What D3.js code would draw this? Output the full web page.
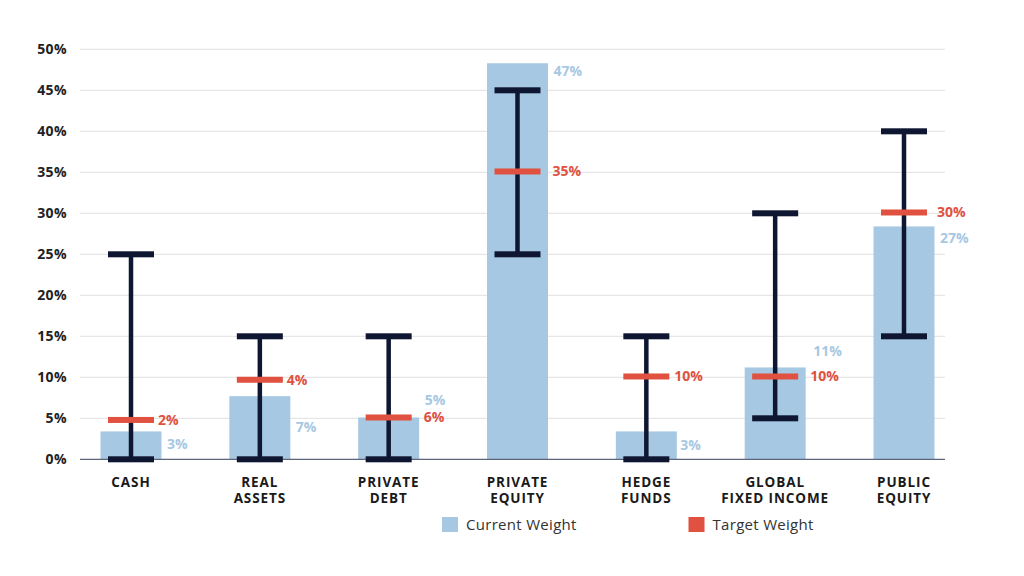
<!DOCTYPE html>
<html><head><meta charset="utf-8">
<script src="https://cdn.jsdelivr.net/npm/d3@7"></script>
<style>
html,body{margin:0;padding:0;background:#fff;}
svg{display:block;font-family:"Open Sans",sans-serif;}
</style></head>
<body>
<svg id="chart" width="1024" height="576"></svg>
<script>
// ---- data ----
const categories = [["CASH"],["REAL","ASSETS"],["PRIVATE","DEBT"],["PRIVATE","EQUITY"],["HEDGE","FUNDS"],["GLOBAL","FIXED INCOME"],["PUBLIC","EQUITY"]];
const currentWeight = [3.4, 7.7, 5.1, 48.3, 3.4, 11.2, 28.4];
const targetWeight  = [4.8, 9.7, 5.1, 35.1, 10.1, 10.1, 30.1];
const rangeMin      = [0, 0, 0, 25, 0, 5, 15];
const rangeMax      = [25, 15, 15, 45, 15, 30, 40];
const currentLabels = ["3%","7%","5%","47%","3%","11%","27%"];
const targetLabels  = ["2%","4%","6%","35%","10%","10%","30%"];
const yTicks = [0,5,10,15,20,25,30,35,40,45,50];

// ---- label layout offsets (px) ----
const curLabelDy = [13, 31, -17, 8, 14, -16, 12];
const curLabelDx = [36, 36, 36, 36, 34, 38, 36];
const tgtLabelDx = [27, 27, 35, 35, 28, 35, 33];

const svg = d3.select("#chart");
const colBar = "#a7c8e2", colNavy = "#0e1631", colRed = "#e0513f";

const y = d3.scaleLinear().domain([0,50]).range([459.3, 49.3]);
const x = d3.scalePoint().domain(d3.range(categories.length)).range([131, 904]);
const barW = 61, capW = 46;

// gridlines
svg.append("g").selectAll("line").data(yTicks.filter(t=>t>0)).join("line")
  .attr("x1",80).attr("x2",945).attr("y1",d=>y(d)).attr("y2",d=>y(d))
  .attr("stroke","#e6e6e6").attr("stroke-width",1.2);

// y axis labels
const yAxis = d3.axisLeft(y).tickValues(yTicks).tickFormat(d=>d+"%").tickSize(0).tickPadding(0);
const ga = svg.append("g").attr("transform","translate(67,0)").call(yAxis);
ga.select(".domain").remove();
ga.selectAll("text").attr("font-size",14).attr("font-weight",700).attr("fill","#222")
  .attr("font-family","'Open Sans',sans-serif").attr("letter-spacing",0.4);

// bars
svg.append("g").selectAll("rect").data(currentWeight).join("rect")
  .attr("x",(d,i)=>x(i)-barW/2).attr("width",barW)
  .attr("y",d=>y(d)).attr("height",d=>y(0)-y(d)).attr("fill",colBar);

// baseline
svg.append("line").attr("x1",80).attr("x2",945).attr("y1",y(0)).attr("y2",y(0))
  .attr("stroke","#5c667a").attr("stroke-width",1.2);

// range whiskers
const wg = svg.append("g");
categories.forEach((c,i)=>{
  wg.append("line").attr("x1",x(i)).attr("x2",x(i)).attr("y1",y(rangeMin[i])).attr("y2",y(rangeMax[i]))
    .attr("stroke",colNavy).attr("stroke-width",4.5);
  [rangeMin[i], rangeMax[i]].forEach(v=>{
    wg.append("rect").attr("x",x(i)-capW/2).attr("width",capW).attr("y",y(v)-3).attr("height",6).attr("fill",colNavy);
  });
});

// target markers
svg.append("g").selectAll("rect").data(targetWeight).join("rect")
  .attr("x",(d,i)=>x(i)-capW/2).attr("width",capW).attr("y",d=>y(d)-3).attr("height",6).attr("fill",colRed);

// value labels
svg.append("g").selectAll("text").data(currentLabels).join("text")
  .attr("x",(d,i)=>x(i)+curLabelDx[i]).attr("y",(d,i)=>y(currentWeight[i])+curLabelDy[i])
  .attr("dy","0.35em").attr("font-size",14).attr("font-weight",700).attr("fill",colBar).text(d=>d);
svg.append("g").selectAll("text").data(targetLabels).join("text")
  .attr("x",(d,i)=>x(i)+tgtLabelDx[i]).attr("y",(d,i)=>y(targetWeight[i]))
  .attr("dy","0.35em").attr("font-size",14).attr("font-weight",700).attr("fill",colRed).text(d=>d);

// category labels
const cg = svg.append("g");
categories.forEach((lines,i)=>{
  lines.forEach((l,j)=>cg.append("text").attr("text-anchor","middle").attr("font-size",13.5).attr("font-weight",700)
    .attr("fill","#1a1a1a").attr("letter-spacing",0.9).attr("x",x(i)).attr("y",487+j*15.5).text(l));
});

// legend
const legend = [{label:"Current Weight",color:colBar,x:442},{label:"Target Weight",color:colRed,x:688.5}];
const lg = svg.append("g");
legend.forEach(l=>{
  lg.append("rect").attr("x",l.x).attr("y",517).attr("width",16).attr("height",15).attr("fill",l.color);
  lg.append("text").attr("x",l.x+24).attr("y",524.5).attr("dy","0.35em").attr("font-size",15)
    .attr("fill","#333").attr("letter-spacing",0.3).text(l.label);
});
</script>
</body></html>
